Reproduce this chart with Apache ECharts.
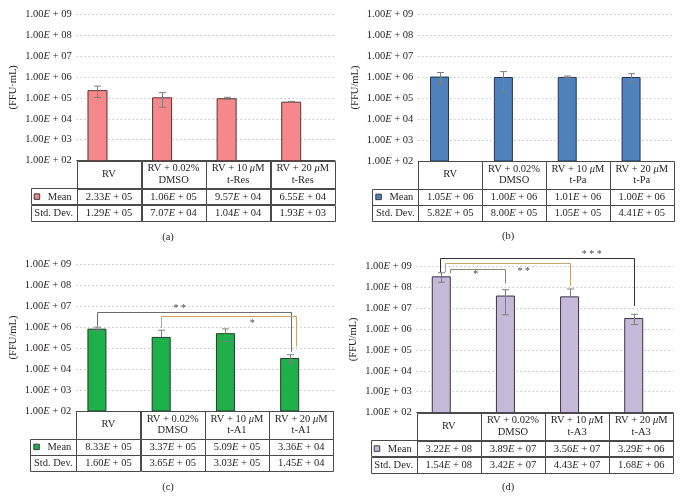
<!DOCTYPE html>
<html><head><meta charset="utf-8">
<script src="https://cdn.jsdelivr.net/npm/echarts@6/dist/echarts.min.js"></script>
<style>html,body{margin:0;padding:0;background:#fff}#c{width:680px;height:500px}</style>
</head><body><div id="c"></div>
<script>
// ---------------- data ----------------
const categoriesA = ['RV', 'RV + 0.02%\nDMSO', 'RV + 10 μM\nt-Res', 'RV + 20 μM\nt-Res'];
const categoriesB = ['RV', 'RV + 0.02%\nDMSO', 'RV + 10 μM\nt-Pa', 'RV + 20 μM\nt-Pa'];
const categoriesC = ['RV', 'RV + 0.02%\nDMSO', 'RV + 10 μM\nt-A1', 'RV + 20 μM\nt-A1'];
const categoriesD = ['RV', 'RV + 0.02%\nDMSO', 'RV + 10 μM\nt-A3', 'RV + 20 μM\nt-A3'];

const meanA = [2.33e5, 1.06e5, 9.57e4, 6.55e4];
const sdA   = [1.29e5, 7.07e4, 1.04e4, 1.93e3];
const meanB = [1.05e6, 1.00e6, 1.01e6, 1.00e6];
const sdB   = [5.82e5, 8.00e5, 1.05e5, 4.41e5];
const meanC = [8.33e5, 3.37e5, 5.09e5, 3.36e4];
const sdC   = [1.60e5, 3.65e5, 3.03e5, 1.45e4];
const meanD = [3.22e8, 3.89e7, 3.56e7, 3.29e6];
const sdD   = [1.54e8, 3.42e7, 4.43e7, 1.68e6];

const yTickLabels = ['1.00E + 02','1.00E + 03','1.00E + 04','1.00E + 05','1.00E + 06','1.00E + 07','1.00E + 08','1.00E + 09'];
const rowLabels = ['Mean', 'Std. Dev.'];
const panelLabels = ['(a)', '(b)', '(c)', '(d)'];
const yAxisNames = ['(FFU·mL)', '(FFU/mL)', '(FFU/mL)', '(FFU/mL)'];

// significance brackets (category indices, values in FFU/mL)
const bracketsC = [
  {from: 0, to: 3, top: 5.4e6, leftEnd: 1.1e6, rightEnd: 6.6e4, text: '* *', textAt: 1.11, textValue: 7.4e6},
  {from: 1, to: 3, top: 3.5e6, leftEnd: 8.9e5, rightEnd: 1.15e5, text: '*', textAt: 2.24, textValue: 1.44e6}
];
const bracketsD = [
  {from: 0, to: 3, top: 2.3e9, leftEnd: 5.0e8, rightEnd: 1.23e7, text: '* * *', textAt: 2.23, textValue: 3.5e9},
  {from: 0, to: 2, top: 1.35e9, leftEnd: 5.0e8, rightEnd: 1.1e8, text: '* *', textAt: 1.17, textValue: 5.8e8},
  {from: 0, to: 1, top: 7.0e8, leftEnd: 4.6e8, rightEnd: 1.47e8, text: '*', textAt: 0.42, textValue: 3.8e8}
];

// ---------------- layout & style ----------------
const CATS = [categoriesA, categoriesB, categoriesC, categoriesD];
const MEANS = [meanA, meanB, meanC, meanD];
const SDS = [sdA, sdB, sdC, sdD];
const BRACKETS = [null, null, bracketsC, bracketsD];

const layout = [
  {left: 76.7, top: 14,  width: 258.3, height: 146.7, off: 11.5, barW: 20, label: [168, 237]},
  {left: 418.3, top: 14, width: 255.4, height: 147,   off: 10.7, barW: 19, label: [508, 236]},
  {left: 76.3, top: 264, width: 257,   height: 147,   off: 11.5, barW: 19, label: [168, 487]},
  {left: 416.7, top: 266, width: 256.6, height: 146.7, off: 7.5, barW: 19, label: [508, 487]}
];
const styles = [
  {fill: '#F4888B', border: '#5a3435'},
  {fill: '#4F81BD', border: '#243450'},
  {fill: '#1FAF4B', border: '#1d3c26'},
  {fill: '#C5B8D9', border: '#3b3446'}
];
const bracketStyles = [null, null,
  [{color: '#6b6b6b', dxL: 0, dxR: 1}, {color: '#c9a36a', dxL: 0, dxR: 6}],
  [{color: '#333333', dxL: -1, dxR: 0}, {color: '#c9a36a', dxL: 4, dxR: 0}, {color: '#7d8c6d', dxL: 9, dxR: 0}]
];
const FONT = 'Liberation Serif';
const TXT = '#231f20';
const FS = 10.5;
const RICH = {i: {fontStyle: 'italic', fontSize: FS, fontFamily: FONT, color: TXT}};

function fmtNum(v) {
  const parts = v.toExponential(2).split('e');
  return parts[0] + '{i|E} + ' + String(Math.abs(+parts[1])).padStart(2, '0');
}
function richCat(s) { return s.replace(/μ/g, '{i|μ}'); }
function r5(v) { return Math.round(v) + 0.5; }

function textEl(x, y, s, extra) {
  return Object.assign({
    type: 'text', x: x, y: y,
    style: Object.assign({text: s, align: 'center', verticalAlign: 'middle', fontSize: FS, fontFamily: FONT,
      fill: TXT, rich: {i: {fontStyle: 'italic', fontSize: FS, fontFamily: FONT, fill: TXT}}}, extra || {})
  });
}

function tableRender(pi) {
  const means = MEANS[pi], sds = SDS[pi], st = styles[pi];
  return function (params, api) {
    const i = params.dataIndex;
    const p0 = api.coord([0, 100]), p1 = api.coord([1, 100]);
    const w = p1[0] - p0[0];
    const c = api.coord([i, 100]);
    const L = c[0] - w / 2, T = c[1];
    const H0 = 27.5, H = 16.3, LW = 46;
    const ls = {fill: null, stroke: '#4a4a4a', lineWidth: 1};
    const ch = [];
    const rect = (x, y, ww, hh) => ({type: 'rect', shape: {x: r5(x), y: r5(y), width: Math.round(ww), height: Math.round(hh)}, style: ls});
    ch.push(rect(L, T, w, H0));
    ch.push(rect(L, T + H0, w, H));
    ch.push(rect(L, T + H0 + H, w, H));
    ch.push(textEl(c[0], T + H0 + H / 2 + 0.5, fmtNum(means[i])));
    ch.push(textEl(c[0], T + H0 + H * 1.5 + 0.5, fmtNum(sds[i])));
    if (i === 0) {
      ch.push(rect(L - LW, T + H0, LW, H));
      ch.push(rect(L - LW, T + H0 + H, LW, H));
      ch.push({type: 'rect', shape: {x: L - LW + 3.5, y: T + H0 + H / 2 - 2.5, width: 5.5, height: 5.5},
        style: {fill: st.fill, stroke: '#3a3a3a', lineWidth: 1}});
      ch.push(textEl(L - 5, T + H0 + H / 2 + 0.5, rowLabels[0], {align: 'right'}));
      ch.push(textEl(L - LW / 2, T + H0 + H * 1.5 + 0.5, rowLabels[1]));
    }
    return {type: 'group', children: ch};
  };
}

function errRender(pi) {
  const means = MEANS[pi], sds = SDS[pi], off = layout[pi].off;
  return function (params, api) {
    const i = params.dataIndex;
    const m = means[i], s = sds[i];
    const x = Math.round(api.coord([i, m])[0] - off) + 0.5;
    const yT = api.coord([i, m + s])[1];
    const hasLow = m - s > 0;
    const yB = hasLow ? api.coord([i, m - s])[1] : api.coord([i, m])[1];
    const ls = {stroke: '#7f7f7f', lineWidth: 1};
    const ch = [
      {type: 'line', shape: {x1: x, y1: yT, x2: x, y2: yB}, style: ls},
      {type: 'line', shape: {x1: x - 3.5, y1: yT, x2: x + 3.5, y2: yT}, style: ls}
    ];
    if (hasLow) ch.push({type: 'line', shape: {x1: x - 3.5, y1: yB, x2: x + 3.5, y2: yB}, style: ls});
    return {type: 'group', children: ch};
  };
}

function bracketRender(pi) {
  const br = BRACKETS[pi], bs = bracketStyles[pi], off = layout[pi].off;
  return function (params, api) {
    const b = br[params.dataIndex], s = bs[params.dataIndex];
    const c0 = api.coord([0, b.top])[0], c1 = api.coord([1, b.top])[0];
    const w = c1 - c0;
    const xl = Math.round(api.coord([b.from, b.top])[0] - off + s.dxL) + 0.5;
    const xr = Math.round(api.coord([b.to, b.top])[0] - off + s.dxR) + 0.5;
    const yt = Math.round(api.coord([b.from, b.top])[1]) + 0.5;
    const yl = api.coord([b.from, b.leftEnd])[1];
    const yr = api.coord([b.to, b.rightEnd])[1];
    const tx = c0 + b.textAt * w;
    const ty = api.coord([b.from, b.textValue])[1];
    return {type: 'group', children: [
      {type: 'polyline', shape: {points: [[xl, yl], [xl, yt], [xr, yt], [xr, yr]]}, style: {fill: null, stroke: s.color, lineWidth: 1}},
      textEl(tx, ty, b.text, {fill: '#444', fontSize: 10})
    ]};
  };
}

// ---------------- option ----------------
const grid = [], xAxis = [], yAxis = [], series = [], graphic = [];
for (let p = 0; p < 4; p++) {
  const L = layout[p], st = styles[p];
  grid.push({left: L.left, top: L.top, width: L.width, height: L.height, containLabel: false});
  xAxis.push({
    type: 'category', gridIndex: p, data: CATS[p],
    axisLine: {show: true, lineStyle: {color: '#4a4a4a', width: 1}},
    axisTick: {show: false}, splitLine: {show: false},
    axisLabel: {interval: 0, margin: 13.5, verticalAlign: 'middle', lineHeight: 11.5,
      fontSize: FS, fontFamily: FONT, color: TXT, formatter: richCat, rich: RICH}
  });
  yAxis.push({
    type: 'log', logBase: 10, gridIndex: p, min: 1e2, max: 1e9,
    name: yAxisNames[p], nameLocation: 'middle', nameGap: 58,
    nameTextStyle: {fontSize: FS, fontFamily: FONT, color: TXT},
    axisLine: {show: false}, axisTick: {show: false},
    splitLine: {show: true, lineStyle: {color: '#a8a8a8', type: [1, 3], width: 1}},
    axisLabel: {margin: 5, fontSize: FS, fontFamily: FONT, color: TXT, rich: RICH,
      formatter: v => yTickLabels[Math.round(Math.log10(v)) - 2].replace('E', '{i|E}')}
  });
  series.push({
    type: 'bar', xAxisIndex: p, yAxisIndex: p, data: MEANS[p], barWidth: L.barW, barGap: 0,
    itemStyle: {color: st.fill, borderColor: st.border, borderWidth: 1}, silent: true, animation: false
  });
  series.push({
    type: 'bar', xAxisIndex: p, yAxisIndex: p, data: MEANS[p].map(() => '-'), barWidth: L.off * 2, barGap: 0,
    itemStyle: {color: 'transparent'}, silent: true, animation: false
  });
  series.push({
    type: 'custom', xAxisIndex: p, yAxisIndex: p, clip: false, silent: true, animation: false, z: 4,
    data: MEANS[p].map((m, i) => [i, m]), renderItem: errRender(p)
  });
  series.push({
    type: 'custom', xAxisIndex: p, yAxisIndex: p, clip: false, silent: true, animation: false, z: 5,
    data: MEANS[p].map((m, i) => [i, 1e2]), renderItem: tableRender(p)
  });
  if (BRACKETS[p]) {
    series.push({
      type: 'custom', xAxisIndex: p, yAxisIndex: p, clip: false, silent: true, animation: false, z: 6,
      data: BRACKETS[p].map(b => [b.from, b.top]), renderItem: bracketRender(p)
    });
  }
  graphic.push({type: 'text', x: L.label[0], y: L.label[1],
    style: {text: panelLabels[p], align: 'center', verticalAlign: 'middle', fontSize: FS, fontFamily: FONT, fill: TXT}});
}

const chart = echarts.init(document.getElementById('c'), null, {renderer: 'canvas'});
chart.setOption({animation: false, backgroundColor: '#fff', grid, xAxis, yAxis, series, graphic});
</script>
</body></html>
